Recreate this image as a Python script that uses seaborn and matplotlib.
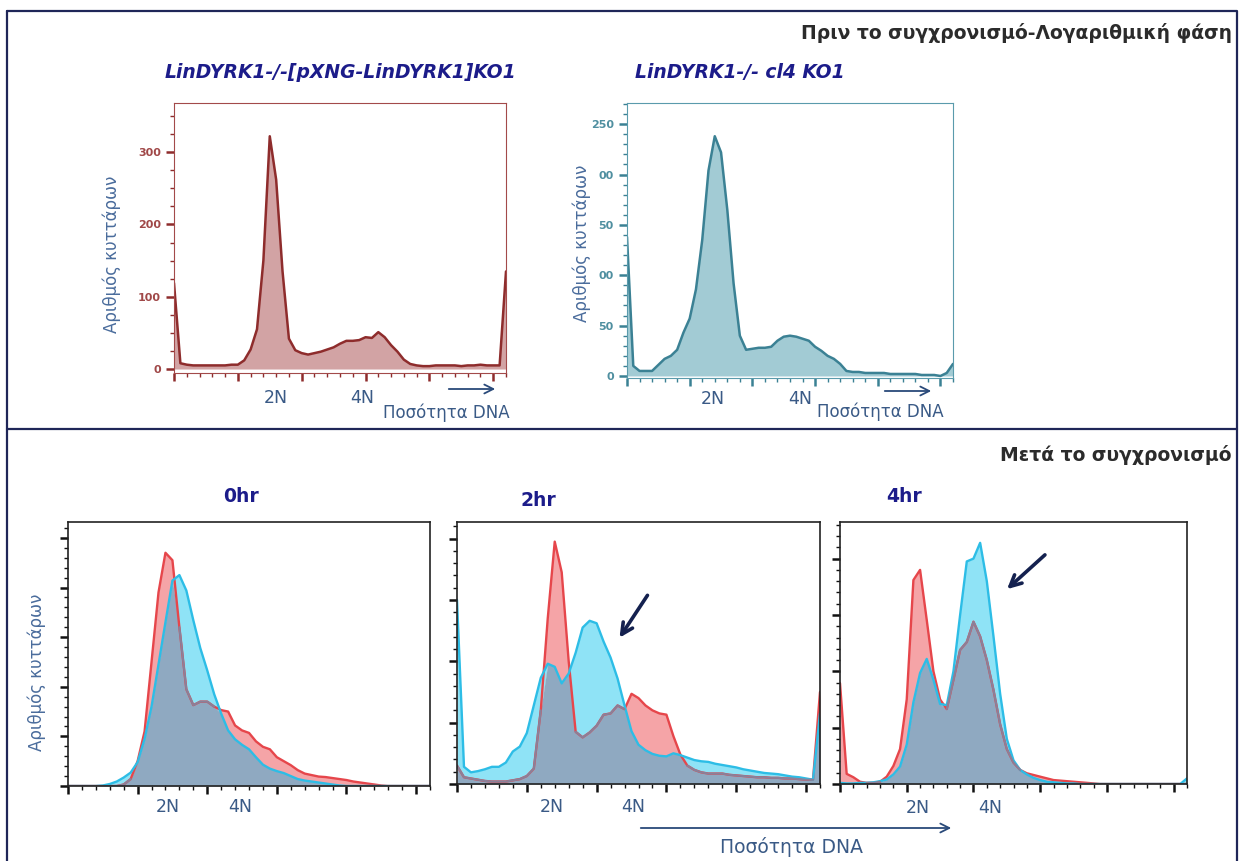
import numpy as np
import matplotlib
matplotlib.use("Agg")
import matplotlib.pyplot as plt
import seaborn as sns
from matplotlib.ticker import MultipleLocator, FixedLocator, FixedFormatter

# DNA content channel (same grid for every histogram)
dna = list(range(0, 261, 5))

# before synchronisation (log phase)
addback_counts = [119, 8, 6, 5, 5, 5, 5, 5, 5, 6,
                  6, 12, 27, 55, 150, 322, 262, 135, 42, 26,
                  22, 20, 22, 24, 27, 30, 35, 39, 39, 40,
                  44, 43, 51, 44, 33, 24, 13, 7, 5, 4,
                  4, 5, 5, 5, 5, 4, 5, 5, 6, 5,
                  5, 5, 135]
ko_counts = [138, 10, 5, 5, 5, 11, 17, 20, 26, 43,
             57, 86, 135, 204, 238, 222, 165, 92, 40, 26,
             27, 28, 28, 29, 35, 39, 40, 39, 37, 35,
             29, 25, 20, 17, 12, 5, 4, 4, 3, 3,
             3, 3, 2, 2, 2, 2, 2, 1, 1, 1,
             0, 3, 12]

# after synchronisation: red = add-back line, cyan = knock-out line
h0_red = [0, 0, 0, 0, 0, 0, 0, 0, 3, 14,
          50, 110, 250, 390, 470, 455, 320, 195, 163, 170,
          170, 160, 153, 150, 122, 112, 107, 90, 79, 74,
          58, 50, 42, 32, 25, 22, 19, 18, 16, 14,
          12, 9, 7, 5, 3, 1, 0, 0, 0, 0,
          0, 0, 0]
h0_cyan = [0, 0, 0, 0, 0, 1, 4, 9, 17, 27,
           48, 95, 160, 245, 330, 414, 425, 394, 334, 278,
           233, 185, 146, 112, 94, 83, 74, 58, 43, 35,
           30, 26, 20, 14, 11, 9, 7, 5, 3, 1,
           0, 0, 0, 0, 0, 0, 0, 0, 0, 0,
           0, 0, 0]
h2_red = [30, 11, 9, 7, 5, 4, 4, 4, 6, 8,
          13, 25, 120, 270, 395, 345, 200, 85, 76, 84,
          95, 113, 115, 128, 122, 147, 140, 128, 120, 115,
          113, 78, 48, 30, 23, 19, 17, 17, 17, 15,
          14, 13, 12, 11, 11, 10, 10, 9, 9, 8,
          7, 7, 150]
h2_cyan = [300, 28, 19, 21, 24, 28, 28, 35, 53, 61,
           83, 128, 173, 196, 191, 164, 180, 214, 255, 266,
           262, 232, 206, 172, 128, 86, 64, 55, 49, 46,
           45, 50, 47, 43, 39, 37, 36, 33, 31, 29,
           27, 24, 22, 20, 18, 17, 16, 14, 12, 11,
           9, 7, 115]
h4_red = [179, 18, 12, 4, 2, 2, 4, 13, 32, 62,
          150, 362, 380, 291, 200, 150, 133, 185, 238, 252,
          288, 262, 220, 167, 106, 62, 38, 25, 19, 16,
          13, 10, 7, 6, 5, 4, 3, 2, 1, 0,
          0, 0, 0, 0, 0, 0, 0, 0, 0, 0,
          0, 0, 0]
h4_cyan = [2, 1, 1, 2, 2, 3, 5, 8, 17, 31,
           70, 145, 197, 222, 185, 142, 140, 200, 300, 395,
           400, 428, 360, 262, 160, 80, 42, 25, 17, 11,
           7, 4, 3, 2, 1, 1, 0, 0, 0, 0,
           0, 0, 0, 0, 0, 0, 0, 0, 0, 0,
           0, 0, 10]

strain_names = ["LinDYRK1-/-[pXNG-LinDYRK1]KO1", "LinDYRK1-/- cl4 KO1"]
timepoints = ["0hr", "2hr", "4hr"]
top_ticks_right = ["0", "50", "00", "50", "00", "250"]

sns.set_style("white")
plt.rcParams['font.family'] = ['DejaVu Sans']

W, H = 1240, 861
fig = plt.figure(figsize=(12.4, 8.61), dpi=100)


def px_axes(l, r, t, b):
    return fig.add_axes([l / W, 1 - b / H, (r - l) / W, (b - t) / H])


navy = '#1c1c8a'
label_blue = '#4a6c9c'
text_blue = '#3a5a86'

# top left : add-back
ax = px_axes(174, 506, 103, 373)
ax.fill_between(dna, 0, addback_counts, color='#d2a3a4', lw=0)
sns.lineplot(x=dna, y=addback_counts, ax=ax, color='#8e2c2c', lw=1.8)
ax.set_xlim(0, 260)
ax.set_ylim(-5.5, 368)
ax.xaxis.set_major_locator(MultipleLocator(50))
ax.xaxis.set_minor_locator(MultipleLocator(10))
ax.yaxis.set_major_locator(FixedLocator([0, 100, 200, 300]))
ax.yaxis.set_minor_locator(MultipleLocator(25))
ax.set_xticklabels([])
for s in ax.spines.values():
    s.set_color('#a34a4a')
ax.tick_params(which='major', direction='out', length=6, width=1.8, color='#8e2c2c',
               labelcolor='#a04848', labelsize=8)
ax.tick_params(which='minor', direction='out', length=3, width=1, color='#8e2c2c')
ax.tick_params(axis='x', which='both', bottom=True)
ax.tick_params(axis='y', which='both', left=True)
for t in ax.get_yticklabels():
    t.set_fontweight('bold')
ax.set_xlabel('')
ax.set_ylabel('')

# top right : knock-out
ax = px_axes(627, 953, 103, 378)
ax.fill_between(dna, 0, ko_counts, color='#a2cbd4', lw=0)
sns.lineplot(x=dna, y=ko_counts, ax=ax, color='#3b8194', lw=1.8)
ax.set_xlim(0, 260)
ax.set_ylim(-2, 271)
ax.xaxis.set_major_locator(MultipleLocator(50))
ax.xaxis.set_minor_locator(MultipleLocator(10))
ax.yaxis.set_major_locator(FixedLocator([0, 50, 100, 150, 200, 250]))
ax.yaxis.set_major_formatter(FixedFormatter(top_ticks_right))
ax.yaxis.set_minor_locator(MultipleLocator(10))
ax.set_xticklabels([])
for s in ax.spines.values():
    s.set_color('#5a9bac')
ax.tick_params(which='major', direction='out', length=6, width=1.8, color='#3b8194',
               labelcolor='#4f8fa0', labelsize=8)
ax.tick_params(which='minor', direction='out', length=3, width=1, color='#3b8194')
ax.tick_params(axis='x', which='both', bottom=True)
ax.tick_params(axis='y', which='both', left=True)
for t in ax.get_yticklabels():
    t.set_fontweight('bold')
ax.set_xlabel('')
ax.set_ylabel('')


def overlay(ax, red, cyan, top):
    red = np.array(red, float)
    cyan = np.array(cyan, float)
    both = np.minimum(red, cyan)
    ax.fill_between(dna, both, red, color='#f5a4a7', lw=0)
    ax.fill_between(dna, both, cyan, color='#8fe3f6', lw=0)
    ax.fill_between(dna, 0, both, color='#8fa9c1', lw=0)
    sns.lineplot(x=dna, y=red, ax=ax, color='#e6464b', lw=1.7)
    sns.lineplot(x=dna, y=cyan, ax=ax, color='#2dbde6', lw=1.7)
    ax.plot(dna, np.where(red <= cyan, red, np.nan), color='#8a8099', lw=1.5)
    ax.set_xlim(0, 260)
    ax.set_ylim(0, top)
    ax.xaxis.set_major_locator(MultipleLocator(50))
    ax.xaxis.set_minor_locator(MultipleLocator(10))
    ax.yaxis.set_major_locator(MultipleLocator(100))
    ax.yaxis.set_minor_locator(MultipleLocator(20))
    ax.set_xticklabels([])
    ax.set_yticklabels([])
    for s in ax.spines.values():
        s.set_color('#222222')
        s.set_linewidth(1.2)
    ax.tick_params(which='major', direction='out', length=6, width=1.8, color='#111111')
    ax.tick_params(which='minor', direction='out', length=3, width=1, color='#111111')
    ax.tick_params(axis='x', which='both', bottom=True)
    ax.tick_params(axis='y', which='both', left=True)
    ax.set_xlabel('')
    ax.set_ylabel('')


overlay(px_axes(68, 430, 522, 786), h0_red, h0_cyan, 532)
overlay(px_axes(457, 820, 522, 784), h2_red, h2_cyan, 427)
overlay(px_axes(840, 1187, 522, 784), h4_red, h4_cyan, 465)

# annotation layer in pixel coordinates
ov = fig.add_axes([0, 0, 1, 1])
ov.set_xlim(0, W)
ov.set_ylim(H, 0)
ov.axis('off')

frame = '#1f2658'
ov.plot([7, 1237, 1237], [11, 11, 861], color=frame, lw=1.6)
ov.plot([7, 7], [11, 861], color=frame, lw=1.6)
ov.plot([7, 1237], [429, 429], color=frame, lw=1.6)

ov.text(1232, 33, 'Πριν το συγχρονισμό-Λογαριθμική φάση', ha='right', va='center',
        fontsize=13.5, fontweight='bold', color='#2b2b2b')
ov.text(1232, 455, 'Μετά το συγχρονισμό', ha='right', va='center',
        fontsize=13.5, fontweight='bold', color='#2b2b2b')

ov.text(340, 73, strain_names[0], ha='center', va='center', fontsize=13.5,
        fontweight='bold', fontstyle='italic', color=navy)
ov.text(740, 73, strain_names[1], ha='center', va='center', fontsize=13.5,
        fontweight='bold', fontstyle='italic', color=navy)

for x, y, name in zip([241, 538, 904], [497, 500, 496], timepoints):
    ov.text(x, y, name, ha='center', va='center', fontsize=13.5,
            fontweight='bold', color=navy)

for x, y in [(112, 254), (582, 243), (37, 672)]:
    ov.text(x, y, 'Αριθμός κυττάρων', ha='center', va='center', rotation=90,
            fontsize=12, color=label_blue)

for x2, x4, y in [(276, 362, 398), (713, 800, 399), (168, 240, 807),
                  (552, 633, 807), (918, 990, 808)]:
    ov.text(x2, y, '2N', ha='center', va='center', fontsize=12.5, color=text_blue)
    ov.text(x4, y, '4N', ha='center', va='center', fontsize=12.5, color=text_blue)

ov.text(446, 413, 'Ποσότητα DNA', ha='center', va='center', fontsize=12, color=text_blue)
ov.text(880, 412, 'Ποσότητα DNA', ha='center', va='center', fontsize=12, color=text_blue)
ov.text(792, 847, 'Ποσότητα DNA', ha='center', va='center', fontsize=13.5, color=text_blue)

thin = dict(arrowstyle='->', color='#2a4a7a', lw=1.3, mutation_scale=16)
ov.annotate('', xy=(498, 389), xytext=(446, 389), arrowprops=thin)
ov.annotate('', xy=(934, 391), xytext=(882, 391), arrowprops=thin)
ov.annotate('', xy=(954, 828), xytext=(638, 828), arrowprops=thin)

thick = dict(arrowstyle='->', color='#14214f', lw=2.6, mutation_scale=20)
ov.annotate('', xy=(618, 640), xytext=(649, 593), arrowprops=thick)
ov.annotate('', xy=(1005, 591), xytext=(1047, 553), arrowprops=thick)

fig.savefig('out.png', dpi=100)
